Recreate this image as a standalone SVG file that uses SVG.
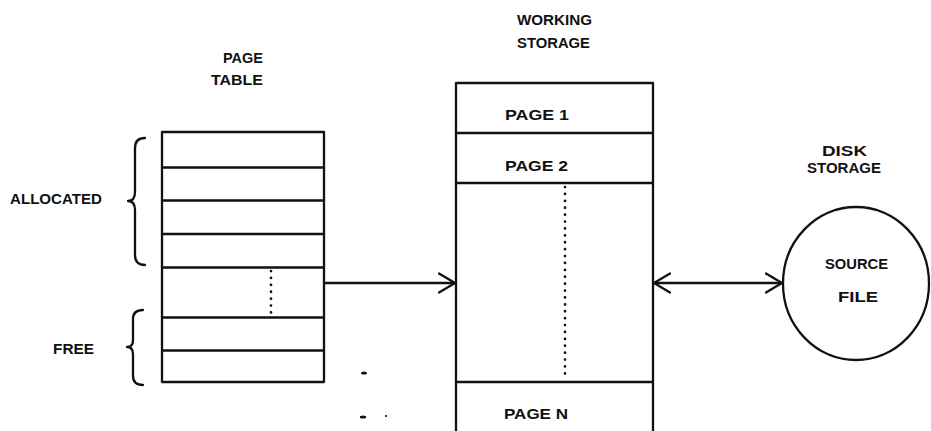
<svg xmlns="http://www.w3.org/2000/svg" width="931" height="431" viewBox="0 0 931 431">
<style>
  .ln{fill:none;stroke:#111;stroke-width:2.3;stroke-linecap:round;stroke-linejoin:round}
  .dot{fill:none;stroke:#111;stroke-width:2.7;stroke-linecap:round;stroke-dasharray:0.1 6.8}
  text{font-family:"Liberation Sans",Arial,sans-serif;font-weight:bold;font-size:14px;fill:#111}
  .big{font-size:15px}
</style>
<defs>
  <marker id="chev" markerUnits="userSpaceOnUse" viewBox="0 0 18 22" refX="17" refY="11" markerWidth="18" markerHeight="22" orient="auto-start-reverse">
    <path d="M1,1.5 L17,11 L1,20.5" fill="none" stroke="#111" stroke-width="2.3" stroke-linecap="round" stroke-linejoin="round"/>
  </marker>
</defs>
<rect width="931" height="431" fill="#fff"/>

<g id="page-table">
  <text x="223" y="63" textLength="40" lengthAdjust="spacingAndGlyphs">PAGE</text>
  <text x="211" y="85" textLength="52" lengthAdjust="spacingAndGlyphs">TABLE</text>
  <rect class="ln" x="162" y="132" width="162" height="250"/>
  <path class="ln" d="M162 167.5H324M162 200.5H324M162 234H324M162 267.5H324M162 317.5H324M162 350.5H324"/>
  <path class="dot" d="M271 271V316"/>
</g>

<g id="allocated">
  <path class="ln" d="M145 138Q135 138 135 148L135 192Q135 201 128 201Q135 201 135 210L135 255Q135 265 145 265"/>
  <text x="10" y="204" textLength="92" lengthAdjust="spacingAndGlyphs">ALLOCATED</text>
</g>

<g id="free">
  <path class="ln" d="M143 310Q133 310 133 319L133 340Q133 347 127 347Q133 347 133 354L133 376Q133 385 143 385"/>
  <text x="53" y="354" textLength="41" lengthAdjust="spacingAndGlyphs">FREE</text>
</g>

<g id="working-storage">
  <text x="517" y="25" textLength="75" lengthAdjust="spacingAndGlyphs">WORKING</text>
  <text x="517" y="48" textLength="73" lengthAdjust="spacingAndGlyphs">STORAGE</text>
  <path class="ln" d="M456 440V83H653V440"/>
  <path class="ln" d="M456 133H653M456 183H653M456 382H653"/>
  <path class="dot" d="M565 187V380"/>
  <text class="big" x="505" y="120" textLength="64" lengthAdjust="spacingAndGlyphs">PAGE 1</text>
  <text class="big" x="505" y="171" textLength="63" lengthAdjust="spacingAndGlyphs">PAGE 2</text>
  <text class="big" x="504" y="419" textLength="64" lengthAdjust="spacingAndGlyphs">PAGE N</text>
</g>

<g id="disk-storage">
  <text x="822" y="156" textLength="45" lengthAdjust="spacingAndGlyphs">DISK</text>
  <text x="807" y="173" textLength="74" lengthAdjust="spacingAndGlyphs">STORAGE</text>
  <ellipse class="ln" cx="856" cy="283.5" rx="73" ry="76.5"/>
  <text class="big" x="825" y="269" textLength="63" lengthAdjust="spacingAndGlyphs">SOURCE</text>
  <text class="big" x="838" y="302" textLength="40" lengthAdjust="spacingAndGlyphs">FILE</text>
</g>

<g id="connectors">
  <path class="ln" d="M324 283H455" marker-end="url(#chev)"/>
  <path class="ln" d="M654 283H782" marker-start="url(#chev)" marker-end="url(#chev)"/>
</g>

<g id="marks" fill="#111">
  <ellipse cx="364" cy="373" rx="3" ry="1.6"/>
  <ellipse cx="363" cy="417" rx="3.2" ry="1.5"/>
  <circle cx="386" cy="416" r="1.1"/>
</g>
</svg>
